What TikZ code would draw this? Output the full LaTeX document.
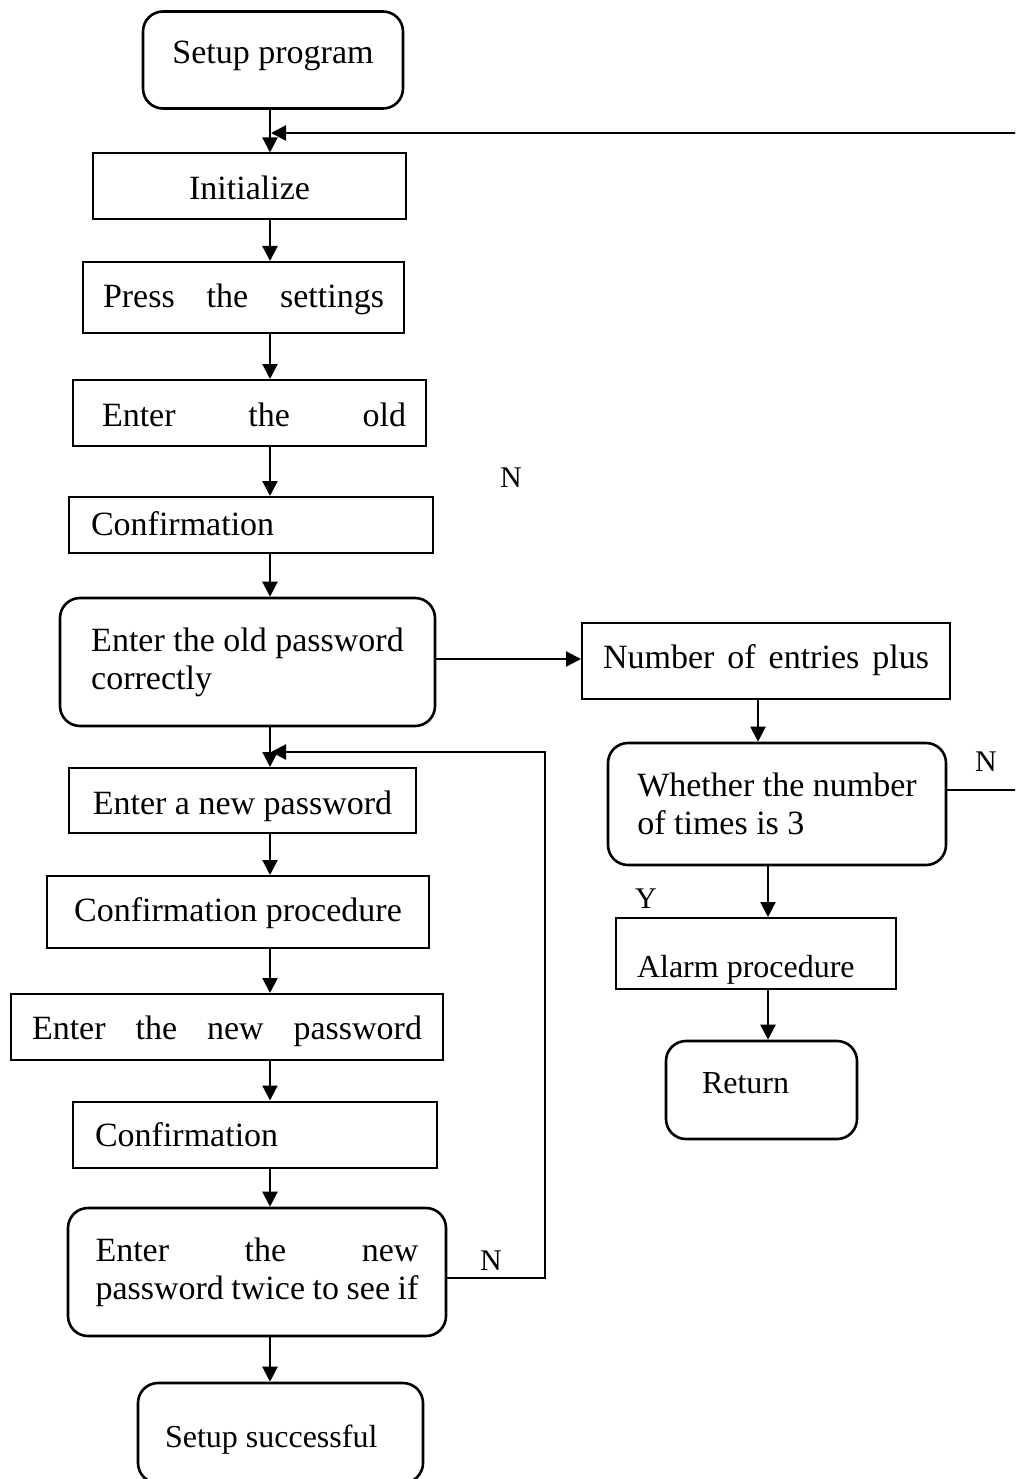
\documentclass[tikz,border=0pt]{standalone}
\usepackage{fontspec}
\setmainfont{Liberation Serif}
\usetikzlibrary{arrows.meta}

\begin{document}
\begin{tikzpicture}[x=1pt,y=-1pt,
  proc/.style={draw, line width=2pt, inner sep=0pt, font=\fontsize{34}{38}\selectfont},
  term/.style={proc, rounded corners=20pt, line width=2.6pt},
  small/.style={font=\fontsize{32}{38}\selectfont},
  drop/.style={text height=#1, text depth=0pt},
  arr/.style={-{Triangle[length=15pt,width=15pt]}, line width=2.2pt},
  yn/.style={inner sep=0pt, font=\fontsize{30}{36}\selectfont}]
\useasboundingbox (0,0) rectangle (1015,1479);
\clip (0,0) rectangle (1015,1479);

% left column
\node (setup) [term, minimum width=260pt, minimum height=97pt, drop=7pt] at (273,60) {Setup program};
\node (init) [proc, minimum width=313pt, minimum height=66pt, drop=27pt] at (249.5,186.5) {Initialize};
\node (press) [proc, minimum width=321pt, minimum height=71pt, drop=19pt] at (243.5,297.5) {\makebox[281pt][s]{Press the settings}};
\node (oldpw) [proc, minimum width=353pt, minimum height=66pt, drop=26pt] at (249.5,413) {\hspace*{9pt}\makebox[304pt][s]{Enter the old}};
\node (conf1) [proc, minimum width=364pt, minimum height=56pt, drop=20pt] at (251,525) {\makebox[320pt][l]{Confirmation}};
\node (oldok) [term, minimum width=375pt, minimum height=128pt, align=left] at (247.5,662) {Enter the old password\\correctly};
\node (newpw) [proc, minimum width=347pt, minimum height=65pt, drop=27pt] at (242.5,800.5) {Enter a new password};
\node (confproc) [proc, minimum width=382pt, minimum height=72pt, drop=19pt] at (238,912) {Confirmation procedure};
\node (newpw2) [proc, minimum width=432pt, minimum height=66pt, drop=24pt] at (227,1027) {\makebox[390pt][s]{Enter the new password}};
\node (conf2) [proc, minimum width=364pt, minimum height=66pt, drop=24pt] at (255,1134.5) {\makebox[320pt][l]{Confirmation}};
\node (twice) [term, minimum width=378pt, minimum height=128pt, align=left] at (257,1272) {\makebox[323pt][s]{Enter the new}\\\makebox[323pt][s]{password twice to see if}};
\node (done) [term, small, minimum width=285pt, minimum height=100pt, drop=28pt] at (280.5,1433) {\makebox[231pt][l]{Setup successful}};

% right column
\node (count) [proc, minimum width=368pt, minimum height=76pt, drop=14pt] at (766,661) {\makebox[326pt][s]{Number of entries plus}};
\node (three) [term, minimum width=338pt, minimum height=122pt, align=left] at (777,804) {Whether the number\\of times is 3};
\node (alarm) [proc, small, minimum width=280pt, minimum height=71pt, drop=47pt] at (756,953.5) {\makebox[238pt][l]{Alarm procedure}};
\node (ret) [term, small, minimum width=191pt, minimum height=98pt, drop=6pt] at (761.5,1090) {\makebox[119pt][l]{Return}};

% Y / N marks
\node (n1) [yn] at (511,477.5) {N};
\node (n2) [yn] at (986,761.5) {N};
\node (y1) [yn] at (646,899) {Y};
\node (n3) [yn] at (491,1261) {N};

\coordinate (spine) at (270,0);
\coordinate (rspine) at (758,0);
\coordinate (rspine2) at (768,0);

\draw[arr] (setup.south -| spine) -- (init.north -| spine);
\draw[arr] (init.south -| spine) -- (press.north -| spine);
\draw[arr] (press.south -| spine) -- (oldpw.north -| spine);
\draw[arr] (oldpw.south -| spine) -- (conf1.north -| spine);
\draw[arr] (conf1.south -| spine) -- (oldok.north -| spine);
\draw[arr] (oldok.south -| spine) -- (newpw.north -| spine);
\draw[arr] (newpw.south -| spine) -- (confproc.north -| spine);
\draw[arr] (confproc.south -| spine) -- (newpw2.north -| spine);
\draw[arr] (newpw2.south -| spine) -- (conf2.north -| spine);
\draw[arr] (conf2.south -| spine) -- (twice.north -| spine);
\draw[arr] (twice.south -| spine) -- (done.north -| spine);

\draw[arr] (oldok.east |- 0,659) -- (count.west |- 0,659);
\draw[arr] (count.south -| rspine) -- (three.north -| rspine);
\draw[arr] (three.south -| rspine2) -- (alarm.north -| rspine2);
\draw[arr] (alarm.south -| rspine2) -- (ret.north -| rspine2);

% back loops
\coordinate (farR) at (1030,133);
\coordinate (topJ) at (271,133);
\draw[arr] (three.east |- 0,790) -| (farR) -- (topJ);
\coordinate (loopR) at (545,752);
\coordinate (midJ) at (271,752);
\draw[arr] (twice.east |- 0,1278) -| (loopR) -- (midJ);
\end{tikzpicture}
\end{document}
